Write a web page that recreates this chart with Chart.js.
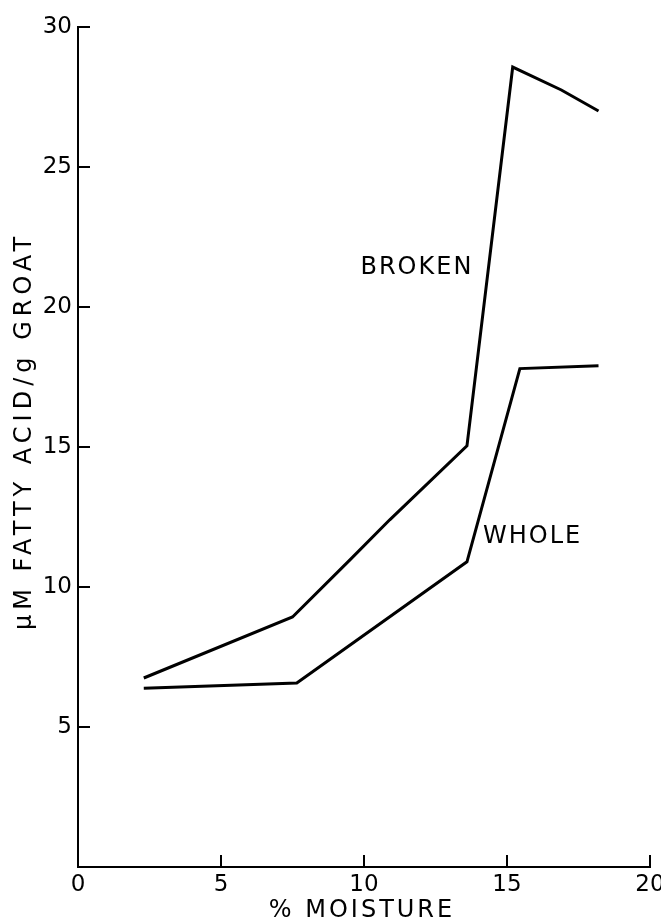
<!DOCTYPE html>
<html>
<head>
<meta charset="utf-8">
<script src="https://cdn.jsdelivr.net/npm/chart.js@4.4.1/dist/chart.umd.min.js"></script>
<style>
  html, body { margin: 0; padding: 0; background: #fff; }
  #wrap { width: 661px; height: 921px; }
</style>
</head>
<body>
<div id="wrap"><canvas id="chart" width="661" height="921"></canvas></div>
<script>
// valores
const brokenX = [2.3, 7.5, 9.5, 10.9, 13.6, 15.2, 16.9, 18.2];
const brokenY = [6.75, 8.93, 10.96, 12.4, 15.04, 28.57, 27.75, 27.0];
const wholeX = [2.3, 7.65, 13.6, 15.45, 18.2];
const wholeY = [6.38, 6.57, 10.9, 17.8, 17.9];
const xTicks = [0, 5, 10, 15, 20];
const yTicks = [5, 10, 15, 20, 25, 30];

const FONT = '"DejaVu Sans", sans-serif';

function toPoints(xs, ys) {
  return xs.map((x, i) => ({ x: x, y: ys[i] }));
}

// ticks para dentro + textos
const extras = {
  id: 'extras',
  afterDraw(chart) {
    const ctx = chart.ctx;
    const xs = chart.scales.x;
    const ys = chart.scales.y;
    ctx.save();
    ctx.strokeStyle = '#000';
    ctx.lineWidth = 2;
    xTicks.forEach(v => {
      if (v === 0) return;
      const px = xs.getPixelForValue(v);
      ctx.beginPath();
      ctx.moveTo(px, ys.bottom);
      ctx.lineTo(px, ys.bottom - 12);
      ctx.stroke();
    });
    yTicks.forEach(v => {
      const py = ys.getPixelForValue(v);
      ctx.beginPath();
      ctx.moveTo(xs.left, py);
      ctx.lineTo(xs.left + 12, py);
      ctx.stroke();
    });

    ctx.fillStyle = '#000';
    ctx.font = '24px ' + FONT;
    ctx.textBaseline = 'middle';

    // rótulos das curvas
    ctx.letterSpacing = '2px';
    ctx.textAlign = 'center';
    ctx.fillText('BROKEN', xs.getPixelForValue(11.85), ys.getPixelForValue(21.4));
    ctx.textAlign = 'left';
    ctx.fillText('WHOLE', xs.getPixelForValue(14.16), ys.getPixelForValue(11.8));

    // título do eixo x
    ctx.letterSpacing = '3px';
    ctx.textAlign = 'center';
    ctx.fillText('% MOISTURE', 362, 911);

    // título do eixo y
    ctx.letterSpacing = '5px';
    ctx.translate(25, 431);
    ctx.rotate(-Math.PI / 2);
    ctx.fillText('\u00b5M FATTY ACID/g GROAT', 0, 0);
    ctx.restore();
  }
};

new Chart(document.getElementById('chart'), {
  type: 'scatter',
  data: {
    datasets: [
      {
        label: 'BROKEN',
        data: toPoints(brokenX, brokenY),
        showLine: true,
        borderColor: '#000',
        borderWidth: 3,
        pointRadius: 0,
        tension: 0
      },
      {
        label: 'WHOLE',
        data: toPoints(wholeX, wholeY),
        showLine: true,
        borderColor: '#000',
        borderWidth: 3,
        pointRadius: 0,
        tension: 0
      }
    ]
  },
  options: {
    responsive: false,
    animation: false,
    layout: { padding: { top: 27, right: 11, left: 0, bottom: 0 } },
    plugins: {
      legend: { display: false },
      tooltip: { enabled: false }
    },
    scales: {
      x: {
        type: 'linear',
        min: 0,
        max: 20,
        afterBuildTicks: s => { s.ticks = xTicks.map(v => ({ value: v })); },
        afterFit: s => { s.height = 54; s.paddingLeft = 0; s.paddingRight = 0; },
        grid: { display: false, drawTicks: false },
        border: { display: true, color: '#000', width: 2 },
        ticks: {
          color: '#000',
          font: { family: FONT, size: 23 },
          padding: 4,
          maxRotation: 0
        }
      },
      y: {
        type: 'linear',
        min: 0,
        max: 30,
        afterBuildTicks: s => { s.ticks = yTicks.map(v => ({ value: v })); },
        afterFit: s => { s.width = 78; s.paddingTop = 0; s.paddingBottom = 0; },
        grid: { display: false, drawTicks: false },
        border: { display: true, color: '#000', width: 2 },
        ticks: {
          color: '#000',
          font: { family: FONT, size: 23 },
          padding: 6
        }
      }
    }
  },
  plugins: [extras]
});
</script>
</body>
</html>
